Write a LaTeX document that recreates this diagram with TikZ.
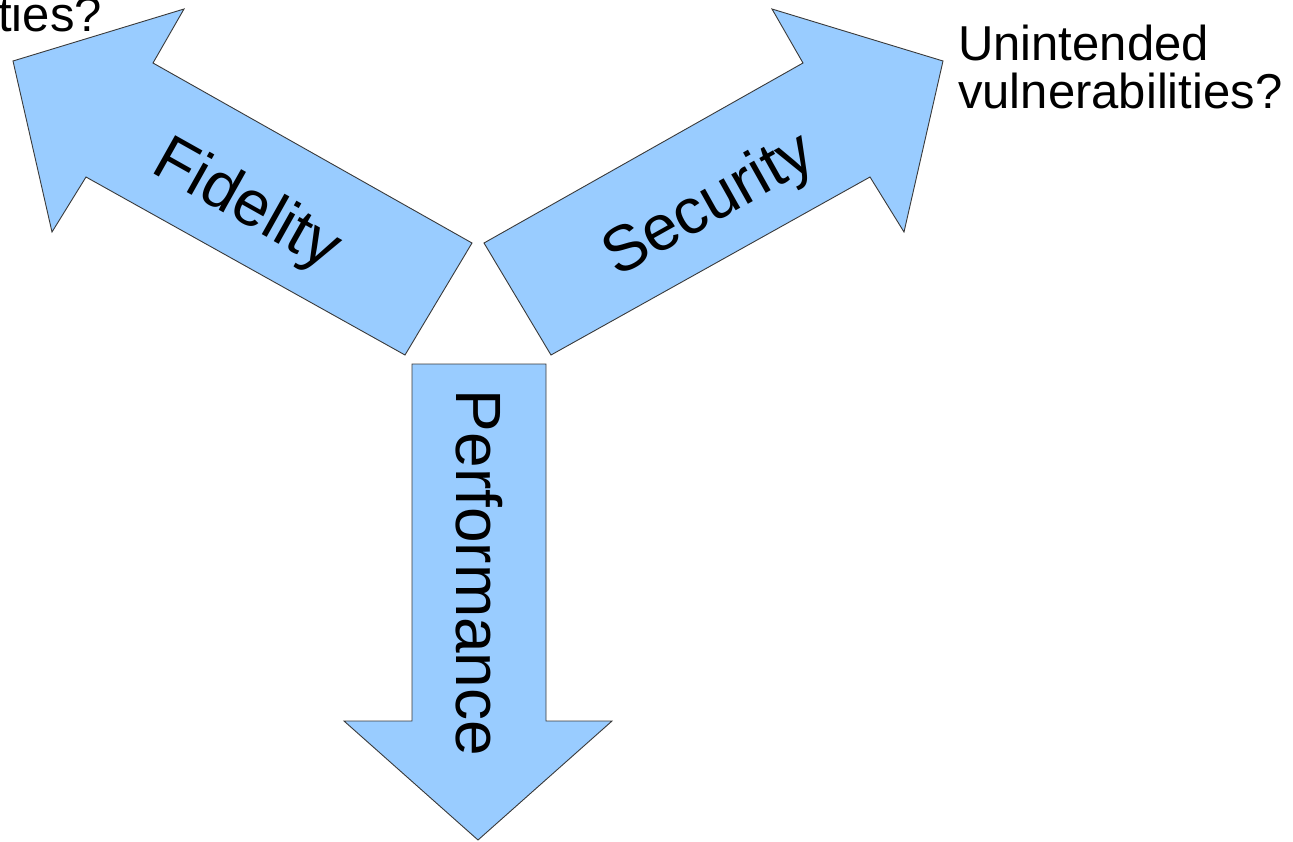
\documentclass[tikz,border=0pt]{standalone}
\usepackage{fontspec}
\setmainfont{Liberation Sans}
\definecolor{arrowfill}{HTML}{99CCFF}
\definecolor{arrowline}{HTML}{3A3A3A}
\begin{document}
\begin{tikzpicture}[x=1pt,y=-1pt,
  bigarrow/.style={fill=arrowfill,draw=arrowline,line width=0.9pt,line join=miter},
  arrowlabel/.style={inner sep=0pt,anchor=base,font=\fontsize{64}{64}\selectfont},
  sidenote/.style={inner sep=0pt,font=\fontsize{49}{49}\selectfont}]
  \useasboundingbox (0,0) rectangle (1293,841);

  % Fidelity: arrow pointing to the upper left
  \draw[bigarrow] (13,61) -- (184,9) -- (153,63) -- (472,243)
    -- (405,355) -- (86,177) -- (52,232) -- cycle;
  % Security: mirror image, pointing to the upper right
  \draw[bigarrow] (943,61) -- (772,9) -- (803,63) -- (484,243)
    -- (551,355) -- (870,177) -- (904,232) -- cycle;
  % Performance: arrow pointing down
  \draw[bigarrow] (412,364) -- (546,364) -- (546,721) -- (612,721)
    -- (478,840) -- (344,721) -- (412,721) -- cycle;

  \node[arrowlabel,rotate=-29.3] (fid) at (238,221) {Fidelity};
  \node[arrowlabel,rotate=29.3] (sec) at (718,221) {Security};
  \node[arrowlabel,rotate=-90] (perf) at (456,573) {Performance};

  \node[sidenote,anchor=base west] (unint) at (958,60) {Unintended};
  \node[sidenote,anchor=base west] (vuln) at (958,108) {vulnerabilities?};
  \node[sidenote,anchor=base east] (ties) at (102,31) {ties?};
\end{tikzpicture}
\end{document}
